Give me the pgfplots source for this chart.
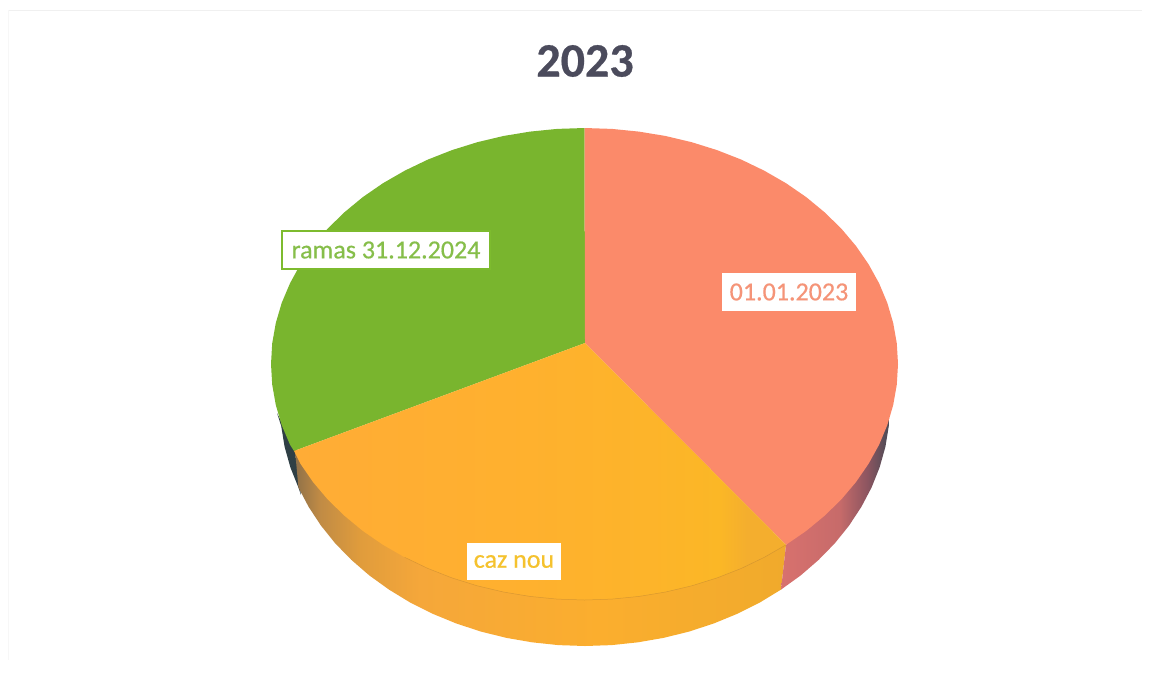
\documentclass[border=0pt]{standalone}
\usepackage{pgfplots}
\pgfplotsset{compat=1.18}
\usepackage{fontspec}
\setmainfont{Carlito}
\newfontfamily\labfont[FakeBold=0.5]{Carlito}
\newfontfamily\titfont[FakeBold=0.6,UprightFont=* Bold]{Carlito}
\definecolor{titlec}{HTML}{4B4B5C}
\definecolor{redtop}{HTML}{FB8A6A}
\definecolor{greentop}{HTML}{79B52E}
\definecolor{greenlab}{HTML}{86BE4A}
\definecolor{redlab}{HTML}{F59478}
\definecolor{orangelab}{HTML}{F5C22E}
\definecolor{gb}{HTML}{7DBB2E}
\definecolor{o0}{HTML}{8F7048}
\definecolor{o1}{HTML}{C08B45}
\definecolor{o2}{HTML}{E09C3C}
\definecolor{o3}{HTML}{F5A73A}
\definecolor{o4}{HTML}{FBAE2E}
\definecolor{o5}{HTML}{F0AA2C}
\definecolor{t0}{HTML}{FFAC36}
\definecolor{t1}{HTML}{FFB02F}
\definecolor{t2}{HTML}{FDB42A}
\definecolor{t3}{HTML}{FBB726}
\definecolor{t4}{HTML}{F4AE2E}
\definecolor{r0}{HTML}{D8716E}
\definecolor{r1}{HTML}{C76B6A}
\definecolor{r2}{HTML}{8C5560}
\definecolor{r3}{HTML}{4A4A55}
\definecolor{d0}{HTML}{2F3F45}
\pgfdeclarehorizontalshading{orside}{100bp}{color(0bp)=(o0); color(25bp)=(o0); color(27.5bp)=(o1); color(31.6bp)=(o2); color(37.7bp)=(o3); color(56bp)=(o4); color(75bp)=(o5); color(100bp)=(o5)}
\pgfdeclarehorizontalshading{ortop}{100bp}{color(0bp)=(t0); color(25bp)=(t0); color(46bp)=(t1); color(61bp)=(t2); color(68.3bp)=(t3); color(71bp)=(t4); color(75bp)=(t4); color(100bp)=(t4)}
\pgfdeclarehorizontalshading{redside}{100bp}{color(0bp)=(r0); color(25bp)=(r0); color(52bp)=(r1); color(65bp)=(r2); color(75bp)=(r3); color(100bp)=(r3)}
\begin{document}
\begin{tikzpicture}
\begin{axis}[
  hide axis, scale only axis, width=1150pt, height=673pt,
  xmin=0, xmax=1150, ymin=0, ymax=673, y dir=reverse,
  no markers, clip=true]
% full extent of the picture
\addplot[draw=none] coordinates {(0,0) (1150,673)};
% faint scan frame
\addplot[draw=black!6, line width=0.8pt] coordinates {(8,10) (1142,10)};
\addplot[draw=black!3, line width=0.8pt] coordinates {(8,10) (8,660)};
% left dark side
\addplot[fill=d0, draw=none] coordinates {(277,413) (281.2,426) (284.6,446.8) (290.4,467.4) (298.4,487.4) (301,495) (295,450)} -- cycle;
% orange side
\addplot[shade, shading=orside, draw=none] coordinates {(786,545) (781,589.6) (760,602.4) (737.5,613.7) (713.9,623.4) (689.3,631.5) (663.9,637.8) (638,642.3) (611.6,645.1) (585,646) (558.4,645.1) (532,642.3) (506.1,637.8) (480.7,631.5) (456.1,623.4) (432.5,613.7) (410,602.4) (389,589.6) (369.3,575.4) (351.4,559.9) (335.1,543.2) (320.9,525.5) (308.6,506.8) (298.4,487.4) (295,450)} -- cycle;
% red side
\addplot[shade, shading=redside, draw=none] coordinates {(786,545) (781,589.6) (800.7,575.4) (818.6,559.9) (834.9,543.2) (849.1,525.5) (861.4,506.8) (871.6,487.4) (879.6,467.4) (885.4,446.8) (888.8,426) (889,418)} -- cycle;
% top: green slice
\addplot[fill=greentop, draw=none] coordinates {(585,343) (294,451) (290,444.7) (281.7,425.1) (275.8,405) (272.2,384.6) (271,364) (272.2,343.4) (275.8,323) (281.7,302.9) (290,283.3) (300.4,264.3) (313,246) (327.7,228.6) (344.4,212.3) (362.8,197.1) (383,183.2) (404.7,170.7) (427.8,159.6) (452,150.1) (477.3,142.2) (503.4,136) (530,131.6) (557.2,128.9) (584.5,128)} -- cycle;
% top: red slice
\addplot[fill=redtop, draw=none] coordinates {(585,343) (584.5,128) (611.8,128.9) (639,131.6) (665.6,136) (691.7,142.2) (717,150.1) (741.3,159.6) (764.3,170.7) (786,183.2) (806.2,197.1) (824.6,212.3) (841.3,228.6) (856,246) (868.6,264.3) (879.1,283.3) (887.3,302.9) (893.2,323) (896.8,343.4) (898,364) (896.8,384.6) (893.2,405) (887.3,425.1) (879.1,444.7) (868.6,463.7) (856,482) (841.3,499.4) (824.6,515.7) (806.2,530.9) (786,544.8)} -- cycle;
% top: orange slice
\addplot[shade, shading=ortop, draw=none] coordinates {(585,343) (786,544.8) (764.3,557.3) (741.3,568.4) (717,577.9) (691.7,585.8) (665.6,592) (639,596.4) (611.8,599.1) (584.5,600) (557.2,599.1) (530,596.4) (503.4,592) (477.3,585.8) (452,577.9) (427.8,568.4) (404.7,557.3) (383,544.8) (362.8,530.9) (344.4,515.7) (327.7,499.4) (313,482) (300.4,463.7) (294,451)} -- cycle;
% edge of the orange top
\addplot[draw=o2!85!black, line width=0.5pt, opacity=0.55] coordinates {(786,544.8) (764.3,557.3) (741.3,568.4) (717,577.9) (691.7,585.8) (665.6,592) (639,596.4) (611.8,599.1) (584.5,600) (557.2,599.1) (530,596.4) (503.4,592) (477.3,585.8) (452,577.9) (427.8,568.4) (404.7,557.3)};
% labels
\node[font=\titfont\fontsize{48}{54}\selectfont, text=titlec, inner sep=0pt] at (axis cs:585,61) {2023};
\node[fill=white, draw=gb, line width=2.6pt, minimum width=208pt, minimum height=38pt, inner sep=0pt, text=greenlab, font=\labfont\fontsize{26}{30}\selectfont] at (axis cs:386,250) {ramas 31.12.2024};
\node[fill=white, minimum width=134pt, minimum height=38pt, inner sep=0pt, text=redlab, font=\labfont\fontsize{26}{30}\selectfont] at (axis cs:789,292) {01.01.2023};
\node[fill=white, minimum width=94pt, minimum height=37pt, inner sep=0pt, text=orangelab, font=\labfont\fontsize{26}{30}\selectfont] at (axis cs:514,561.5) {caz nou};
\end{axis}
\end{tikzpicture}
\end{document}
